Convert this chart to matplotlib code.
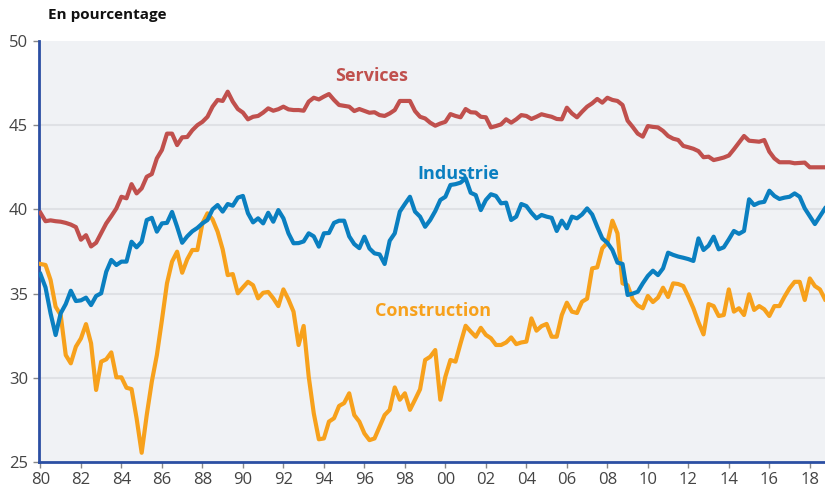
import matplotlib
matplotlib.use("Agg")
import matplotlib.pyplot as plt
import numpy as np

plt.rcParams['font.family'] = ['Open Sans', 'DejaVu Sans']

start_year = 1980
services = [
    39.8, 39.3, 39.35, 39.3,
    39.27, 39.2, 39.1, 38.95,
    38.2, 38.47, 37.8, 38.02,
    38.6, 39.17, 39.6, 40.06,
    40.75, 40.66, 41.5, 40.95,
    41.25, 41.94, 42.1, 43.03,
    43.53, 44.5, 44.5, 43.82,
    44.28, 44.3, 44.7, 45.0,
    45.2, 45.5, 46.1, 46.5,
    46.44, 46.99, 46.4, 45.96,
    45.75, 45.35, 45.5, 45.55,
    45.75, 46.0, 45.86, 45.95,
    46.1, 45.94, 45.9, 45.9,
    45.86, 46.4, 46.63, 46.53,
    46.7, 46.85, 46.5, 46.2,
    46.15, 46.1, 45.84, 45.96,
    45.85, 45.74, 45.77, 45.6,
    45.55, 45.7, 45.9, 46.44,
    46.44, 46.44, 45.84, 45.5,
    45.4, 45.15, 44.97, 45.1,
    45.2, 45.66, 45.55, 45.47,
    45.96, 45.77, 45.75, 45.5,
    45.47, 44.87, 44.95, 45.05,
    45.35, 45.15, 45.35, 45.6,
    45.55, 45.37, 45.5, 45.65,
    45.57, 45.5, 45.37, 45.35,
    46.04, 45.7, 45.47, 45.8,
    46.1, 46.3, 46.56, 46.34,
    46.63, 46.5, 46.44, 46.2,
    45.27, 44.9, 44.5, 44.32,
    44.95, 44.9, 44.87, 44.66,
    44.36, 44.2, 44.12, 43.77,
    43.69, 43.6, 43.46, 43.1,
    43.13, 42.93, 43.0, 43.08,
    43.2, 43.57, 43.96, 44.36,
    44.08, 44.05, 44.02, 44.12,
    43.43, 43.03, 42.8, 42.8,
    42.8, 42.74, 42.76, 42.78,
    42.5, 42.5, 42.5, 42.5,
]
industrie = [
    36.16, 35.37, 33.83, 32.54,
    33.83, 34.38, 35.17, 34.56,
    34.6, 34.76, 34.32, 34.86,
    35.02, 36.3, 37.0, 36.7,
    36.9, 36.9, 38.08, 37.75,
    38.08, 39.37, 39.5, 38.68,
    39.17, 39.2, 39.85, 38.97,
    38.02, 38.4, 38.7, 38.9,
    39.17, 39.37, 40.0, 40.26,
    39.87, 40.32, 40.22, 40.7,
    40.8, 39.77, 39.23, 39.47,
    39.17, 39.8, 39.27, 39.96,
    39.47, 38.58, 37.99, 38.0,
    38.1, 38.58, 38.4, 37.79,
    38.58, 38.6, 39.2, 39.33,
    39.33, 38.4, 37.94, 37.7,
    38.38, 37.68, 37.39, 37.33,
    36.76, 38.14, 38.58, 39.87,
    40.32, 40.75, 39.87, 39.57,
    38.97, 39.37, 39.9, 40.56,
    40.75, 41.45, 41.5, 41.59,
    41.85, 40.99, 40.85, 39.96,
    40.56, 40.9, 40.8, 40.36,
    40.4, 39.37, 39.57, 40.32,
    40.2, 39.8, 39.47, 39.67,
    39.57, 39.5, 38.72, 39.33,
    38.88, 39.57, 39.47, 39.7,
    40.06, 39.7, 38.97, 38.28,
    38.02, 37.59, 36.84, 36.76,
    34.92, 35.0, 35.11, 35.61,
    36.05, 36.36, 36.1, 36.5,
    37.43, 37.3, 37.2, 37.13,
    37.05, 36.94, 38.28, 37.59,
    37.85, 38.38, 37.63, 37.75,
    38.22, 38.72, 38.55, 38.72,
    40.6, 40.26, 40.4, 40.45,
    41.11, 40.8, 40.62, 40.7,
    40.75, 40.95, 40.75, 40.06,
    39.6, 39.13, 39.6, 40.06,
]
construction = [
    36.76, 36.7, 35.81, 34.22,
    33.73, 31.35, 30.86, 31.85,
    32.34, 33.19, 32.05, 29.28,
    30.96, 31.1, 31.51, 30.03,
    30.03, 29.41, 29.33, 27.59,
    25.55, 27.79, 29.77, 31.35,
    33.43, 35.61, 36.9, 37.49,
    36.24, 37.04, 37.59, 37.59,
    39.17, 39.77, 39.41, 38.68,
    37.63, 36.1, 36.16, 35.02,
    35.37, 35.7, 35.5, 34.72,
    35.05, 35.1, 34.72, 34.26,
    35.25, 34.65, 33.93, 31.95,
    33.08, 30.07, 27.89, 26.35,
    26.4, 27.4, 27.6, 28.33,
    28.5, 29.08, 27.79, 27.4,
    26.7, 26.3, 26.4, 27.1,
    27.79, 28.1, 29.43, 28.7,
    29.08, 28.1, 28.7, 29.32,
    31.06, 31.25, 31.65, 28.7,
    30.07, 31.06, 30.96, 32.05,
    33.09, 32.75, 32.44, 32.97,
    32.55, 32.35, 31.95, 31.95,
    32.1, 32.4, 32.0, 32.1,
    32.15, 33.53, 32.8, 33.07,
    33.2, 32.44, 32.44, 33.73,
    34.46, 33.93, 33.85, 34.52,
    34.7, 36.5, 36.56, 37.69,
    38.02, 39.33, 38.58, 35.61,
    35.5, 34.66, 34.3, 34.13,
    34.86, 34.5, 34.76, 35.35,
    34.8, 35.61, 35.57, 35.45,
    34.82, 34.13, 33.3, 32.58,
    34.38, 34.26, 33.67, 33.73,
    35.25, 33.93, 34.13, 33.73,
    34.96, 34.03, 34.26, 34.07,
    33.67, 34.26, 34.26, 34.82,
    35.32, 35.7, 35.7, 34.62,
    35.9, 35.45, 35.25, 34.66,
]
x_tick_years = list(range(1980, 2019, 2))
x_tick_labels = [f"{y % 100:02d}" for y in x_tick_years]
y_ticks = [25, 30, 35, 40, 45, 50]

c_serv = '#c0504d'
c_ind = '#0a7fc0'
c_cons = '#f7a11c'

t = start_year + np.arange(len(services)) / 4.0

fig = plt.figure(figsize=(8.25, 4.91), dpi=100)
ax = fig.add_axes([0.0473, 0.059, 0.9527, 0.8575])
ax.set_facecolor('#f0f2f5')

for yv in [30, 35, 40, 45]:
    ax.axhline(yv, color='#dfe1e5', lw=1.5, zorder=1)

ax.plot(t, construction, color=c_cons, lw=3.0, zorder=3, solid_joinstyle='round')
ax.plot(t, industrie, color=c_ind, lw=3.0, zorder=4, solid_joinstyle='round')
ax.plot(t, services, color=c_serv, lw=3.0, zorder=5, solid_joinstyle='round')

ax.set_xlim(1979.93, 2018.75)
ax.set_ylim(25, 50)
ax.set_xticks(x_tick_years)
ax.set_xticklabels(x_tick_labels)
ax.set_yticks(y_ticks)
ax.set_yticklabels([str(v) for v in y_ticks])

for s in ['top', 'right']:
    ax.spines[s].set_visible(False)
for s in ['left', 'bottom']:
    ax.spines[s].set_color('#2b4fa3')
    ax.spines[s].set_linewidth(2)

ax.tick_params(axis='both', colors='#888888', labelcolor='#444444', labelsize=12,
               length=4, width=1)
ax.tick_params(axis='x', pad=3)
ax.tick_params(axis='y', pad=4)

ax.text(1996.37, 47.92, 'Services', color=c_serv, fontsize=13, fontweight='bold',
        ha='center', va='center')
ax.text(2000.62, 42.1, 'Industrie', color=c_ind, fontsize=13, fontweight='bold',
        ha='center', va='center')
ax.text(1999.38, 33.97, 'Construction', color=c_cons, fontsize=13, fontweight='bold',
        ha='center', va='center')

fig.text(48 / 825, 1 - 15 / 491, 'En pourcentage', fontsize=11, fontweight='bold',
         color='#111111', ha='left', va='center')

fig.savefig('out.png', dpi=100)
